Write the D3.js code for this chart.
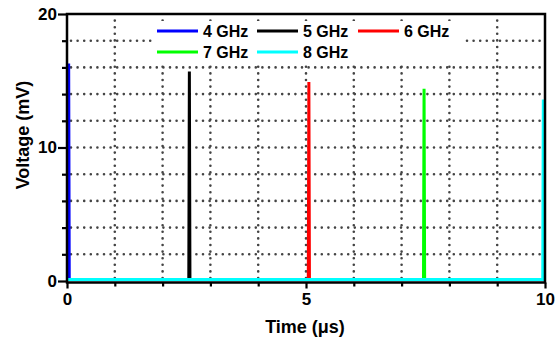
<!DOCTYPE html>
<html>
<head>
<meta charset="utf-8">
<script src="https://cdn.jsdelivr.net/npm/d3@7/dist/d3.min.js"></script>
<style>
  html, body { margin: 0; padding: 0; background: #fff; }
  svg { display: block; }
  text { font-family: "Liberation Sans", Arial, sans-serif; font-weight: bold; fill: #000; }
</style>
</head>
<body>
<svg id="chart" width="556" height="341"></svg>
<script>
// Pulse trains: one spike per frequency, on a near-zero baseline
const seriesNames = ["4 GHz", "5 GHz", "6 GHz", "7 GHz", "8 GHz"];
const seriesColors = ["#0000ff", "#000000", "#ff0000", "#00ff00", "#00ffff"];
const spikeTimes = [0.035, 2.56, 5.06, 7.47, 9.965]; // µs
const spikePeaks = [16.3, 15.7, 14.9, 14.4, 13.6];   // mV
const baseline = 0.12;                               // mV
const spikeHalfWidth = 0.012;                        // µs

const xTicksMajor = [0, 5, 10];
const xTicksMinor = [1, 2, 3, 4, 6, 7, 8, 9];
const yTicksMajor = [0, 10, 20];
const yTicksMinor = [2, 4, 6, 8, 12, 14, 16, 18];

const svg = d3.select("#chart");
const plotL = 67, plotR = 545, plotT = 14, plotB = 281;

const x = d3.scaleLinear().domain([0, 10]).range([plotL, plotR]);
const y = d3.scaleLinear().domain([0, 20]).range([plotB, plotT]);

// Dotted grid
const grid = svg.append("g")
  .attr("stroke", "#444").attr("stroke-width", 2.6)
  .attr("stroke-linecap", "round").attr("stroke-dasharray", "0,6.6");
grid.selectAll("line.v").data(xTicksMinor.concat([5])).join("line")
  .attr("class", "v")
  .attr("x1", d => x(d)).attr("x2", d => x(d))
  .attr("y1", y(0) - 3).attr("y2", y(20) + 3);
grid.selectAll("line.h").data(yTicksMinor.concat([10])).join("line")
  .attr("class", "h")
  .attr("y1", d => y(d)).attr("y2", d => y(d))
  .attr("x1", x(0) + 4).attr("x2", x(10) - 3);

// Legend background hides the grid behind it
svg.append("rect").attr("x", 154).attr("y", 21).attr("width", 309).attr("height", 41)
  .attr("fill", "#fff");

// Series lines (cyan last, on top of the baseline)
const line = d3.line().x(d => x(d[0])).y(d => y(d[1]));
seriesNames.forEach((name, i) => {
  const t = spikeTimes[i];
  const pts = [];
  pts.push([0, baseline]);
  pts.push([t - spikeHalfWidth, baseline]);
  pts.push([t, spikePeaks[i]]);
  pts.push([t + spikeHalfWidth, baseline]);
  pts.push([10, baseline]);
  svg.append("path").datum(pts)
    .attr("d", line)
    .attr("fill", "none")
    .attr("stroke", seriesColors[i])
    .attr("stroke-width", 3)
    .attr("stroke-linejoin", "miter");
});

// Frame
svg.append("rect").attr("x", plotL).attr("y", plotT)
  .attr("width", plotR - plotL).attr("height", plotB - plotT + 1.5)
  .attr("fill", "none").attr("stroke", "#000").attr("stroke-width", 2.5);

// Axes
const xAxisG = svg.append("g").attr("transform", `translate(0,${plotB + 1.5})`);
xAxisG.call(d3.axisBottom(x).tickValues(xTicksMajor).tickSize(6).tickPadding(4)
  .tickFormat(d3.format("d")));
xAxisG.append("g").call(d3.axisBottom(x).tickValues(xTicksMinor).tickSize(4).tickFormat(""));

const yAxisG = svg.append("g").attr("transform", `translate(${plotL},0)`);
yAxisG.call(d3.axisLeft(y).tickValues(yTicksMajor).tickSize(9).tickPadding(1)
  .tickFormat(d3.format("d")));
yAxisG.append("g").call(d3.axisLeft(y).tickValues(yTicksMinor).tickSize(5).tickFormat(""));

svg.selectAll(".domain").remove();
svg.selectAll(".tick line").attr("stroke", "#000").attr("stroke-width", 2.2);
svg.selectAll(".tick text").attr("font-size", 17).attr("fill", "#000")
  .style("font-family", "Liberation Sans, Arial, sans-serif").style("font-weight", "bold");

// Axis titles
svg.append("text").attr("x", 305).attr("y", 333).attr("text-anchor", "middle")
  .attr("font-size", 18).text("Time (\u03bcs)");
svg.append("text")
  .attr("transform", "translate(29,135) rotate(-90)")
  .attr("text-anchor", "middle").attr("font-size", 18).text("Voltage (mV)");

// Legend
const legendPos = [[157, 31], [257, 31], [358, 31], [157, 52], [257, 52]];
seriesNames.forEach((name, i) => {
  const [lx, ly] = legendPos[i];
  svg.append("line").attr("x1", lx).attr("x2", lx + 41).attr("y1", ly).attr("y2", ly)
    .attr("stroke", seriesColors[i]).attr("stroke-width", 3);
  svg.append("text").attr("x", lx + 46).attr("y", ly + 6)
    .attr("font-size", 16).text(name);
});
</script>
</body>
</html>
